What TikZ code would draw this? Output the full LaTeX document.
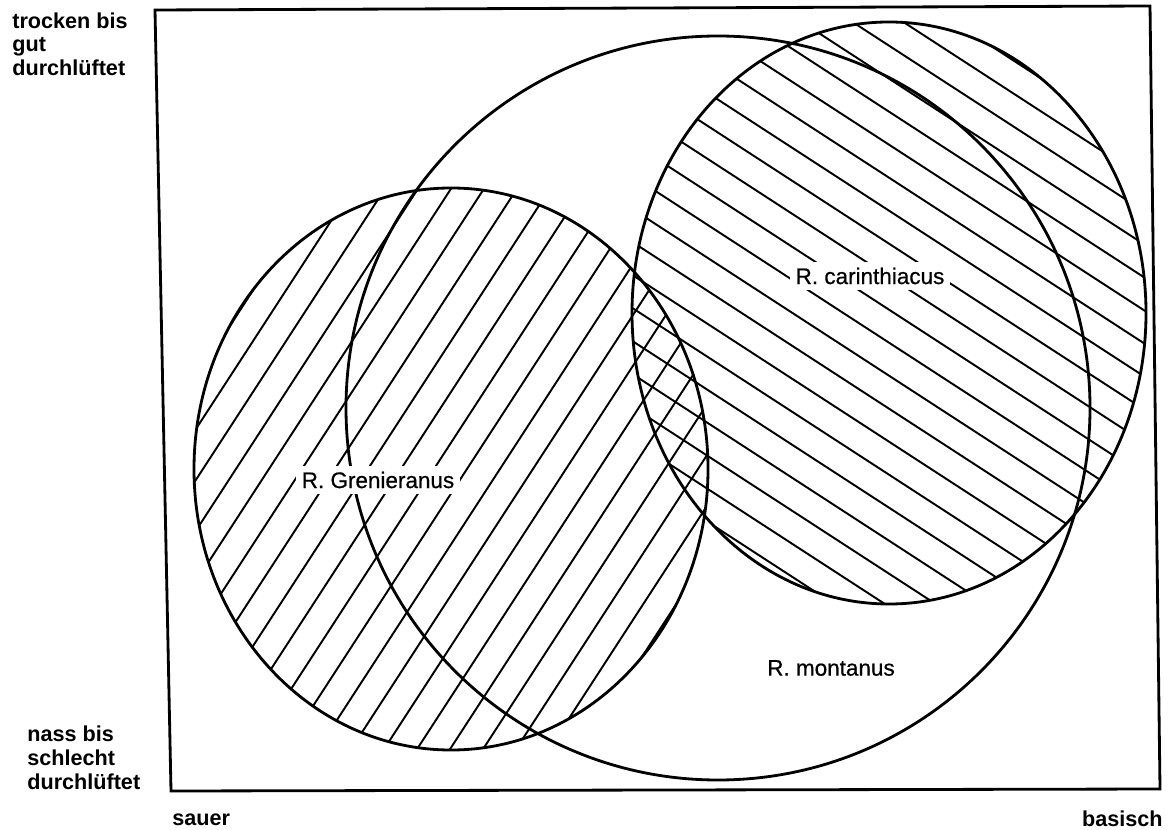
\documentclass[tikz,border=0pt]{standalone}
\usepackage{fontspec}
\setmainfont{Liberation Sans}
\newfontfamily\tagfont{Liberation Sans}[FakeBold=0.6]
\usetikzlibrary{calc}
\begin{document}
\begin{tikzpicture}[
  x=0.02cm,y=-0.02cm,
  outline/.style={line width=1.6pt},
  hatch/.style={line width=1.1pt},
  tag/.style={fill=white,inner sep=3pt,font=\tagfont\fontsize{12.8}{14}\selectfont},
  axis/.style={inner sep=0pt,align=left,font=\fontsize{12.3}{13.6}\selectfont\bfseries}
]
\useasboundingbox (0,0) rectangle (1168,830);
\coordinate (gren) at (451,469);
\coordinate (cari) at (889,313);
\coordinate (mont) at (718,408);
% hatching
\begin{scope}
  \clip (gren) ellipse [x radius=257,y radius=281];
  \foreach \i in {0,...,29}
    \draw[hatch] (\i*33-210,800) -- ++(-57:800);
\end{scope}
\begin{scope}
  \clip (cari) ellipse [x radius=257,y radius=291];
  \foreach \j in {0,...,29}
    \draw[hatch] (600,\j*33-340) -- ++(33:700);
\end{scope}
% outlines
\draw[outline] (155,10) -- (1150,6) -- (1160,789) -- (171,791) -- cycle;
\draw[outline] (mont) circle [radius=372];
\draw[outline] (gren) ellipse [x radius=257,y radius=281];
\draw[outline] (cari) ellipse [x radius=257,y radius=291];
% labels
\node[tag] (lgren) at (378,480) {R. Grenieranus};
\node[tag] (lcari) at (870,276) {R. carinthiacus};
\node[tag] (lmont) at (831,668) {R. montanus};
\node[axis,anchor=north west] (wet0) at (12,12) {trocken bis\\gut\\durchlüftet};
\node[axis,anchor=south west] (wet1) at (27,790) {nass bis\\schlecht\\durchlüftet};
\node[axis,anchor=base west] (ph0) at (172,825) {sauer};
\node[axis,anchor=base east] (ph1) at (1163,826) {basisch};
\end{tikzpicture}
\end{document}
